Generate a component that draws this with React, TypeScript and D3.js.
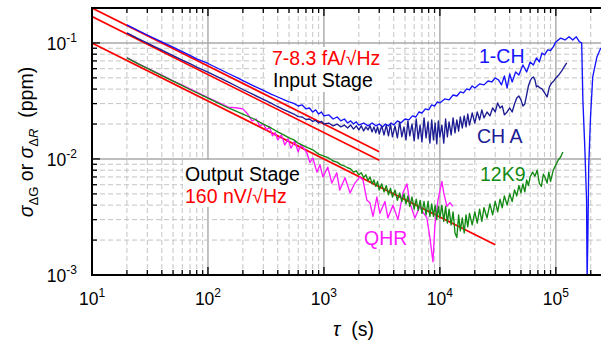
import * as d3 from "d3"

// Allan deviation data, tau in s, sigma in ppm
const oneCH: [number, number][] = [
  [20, 0.143], [25, 0.128], [30, 0.117], [40, 0.102], [50, 0.092], [60, 0.084], [70, 0.078], [80, 0.073],
  [100, 0.0665], [120, 0.0608], [150, 0.0545], [180, 0.0499], [200, 0.0474], [250, 0.0425], [300, 0.039],
  [350, 0.0362], [400, 0.0342], [450, 0.0325], [500, 0.031], [550, 0.0301], [600, 0.0286], [650, 0.0292],
  [700, 0.027], [750, 0.0275], [800, 0.0254], [850, 0.0265], [900, 0.0244], [950, 0.0254], [1000, 0.0235],
  [1100, 0.024], [1200, 0.0221], [1300, 0.023], [1400, 0.0213], [1500, 0.0221], [1600, 0.0204], [1700, 0.0213],
  [1800, 0.02], [1900, 0.0209], [2000, 0.0196], [2200, 0.0204], [2400, 0.0193], [2600, 0.0204], [2800, 0.0193],
  [3000, 0.02], [3200, 0.0189], [3400, 0.02], [3600, 0.0193], [3800, 0.0204], [4000, 0.0196], [4300, 0.0213],
  [4600, 0.0204], [5000, 0.0221], [5400, 0.0217], [5800, 0.0235], [6200, 0.023], [6600, 0.0254], [7000, 0.0249],
  [7500, 0.027], [8000, 0.0265], [8500, 0.0292], [9000, 0.0286], [9500, 0.031], [10000, 0.0304], [11000, 0.0329],
  [12000, 0.0323], [13000, 0.0356], [14000, 0.0349], [15000, 0.0378], [16000, 0.0371], [17000, 0.0402],
  [18000, 0.0394], [19000, 0.0426], [20000, 0.0409], [22000, 0.0443], [24000, 0.0435], [26000, 0.047],
  [28000, 0.0461], [30000, 0.0499], [32000, 0.048], [34000, 0.0435], [36000, 0.0519], [38000, 0.0409],
  [40000, 0.054], [42000, 0.0461], [45000, 0.0562], [48000, 0.053], [52000, 0.0646], [56000, 0.0562],
  [60000, 0.0686], [64000, 0.0646], [68000, 0.0743], [72000, 0.0686], [76000, 0.082], [80000, 0.0788],
  [85000, 0.087], [90000, 0.086], [95000, 0.0924], [100000, 0.102], [110000, 0.11], [120000, 0.106],
  [130000, 0.113], [140000, 0.106], [150000, 0.113], [160000, 0.102], [167000, 0.1], [171000, 0.0323],
  [178000, 0.012], [184000, 0.0044], [186000, 0.0009], [189000, 0.0023], [192000, 0.0085], [199000, 0.023],
  [208000, 0.051], [226000, 0.0757], [244000, 0.0906],
]

const chA: [number, number][] = [
  [20, 0.122], [25, 0.109], [30, 0.0998], [40, 0.0868], [50, 0.0778], [60, 0.0712], [70, 0.0662], [80, 0.062],
  [100, 0.056], [120, 0.0512], [150, 0.0459], [180, 0.0419], [200, 0.0397], [250, 0.0356], [300, 0.0326],
  [350, 0.0303], [400, 0.0282], [450, 0.0266], [500, 0.0254], [550, 0.0244], [600, 0.0232], [650, 0.023],
  [700, 0.0219], [750, 0.0221], [800, 0.0211], [850, 0.0215], [900, 0.0204], [950, 0.0211], [1000, 0.02],
  [1100, 0.0204], [1200, 0.0193], [1300, 0.02], [1400, 0.0189], [1500, 0.0196], [1600, 0.0185], [1700, 0.0196],
  [1800, 0.0181], [1900, 0.0193], [2000, 0.0178], [2100, 0.0193], [2200, 0.0174], [2300, 0.0189], [2400, 0.0178],
  [2500, 0.0193], [2600, 0.0171], [2700, 0.0189], [2800, 0.0168], [2900, 0.0189], [3000, 0.0164], [3150, 0.0193],
  [3300, 0.0161], [3450, 0.0196], [3600, 0.0158], [3750, 0.02], [3900, 0.0155], [4100, 0.0193], [4300, 0.0152],
  [4500, 0.0209], [4700, 0.0155], [4900, 0.0189], [5100, 0.0146], [5300, 0.0213], [5500, 0.0158], [5750, 0.02],
  [6000, 0.0143], [6250, 0.0221], [6500, 0.0149], [6750, 0.0196], [7000, 0.014], [7300, 0.0226], [7600, 0.0152],
  [7900, 0.0209], [8200, 0.0137], [8500, 0.0217], [8800, 0.0146], [9100, 0.0204], [9400, 0.0135], [9700, 0.0213],
  [10000, 0.0155], [10400, 0.0196], [10800, 0.0137], [11200, 0.0221], [11600, 0.0155], [12000, 0.0209],
  [12500, 0.0161], [13000, 0.0226], [13500, 0.0168], [14000, 0.0217], [14500, 0.0174], [15000, 0.023],
  [15600, 0.0185], [16200, 0.0235], [16800, 0.0189], [17400, 0.0244], [18000, 0.0196], [19000, 0.0249],
  [20000, 0.0204], [21000, 0.0254], [22000, 0.0217], [23000, 0.0265], [24000, 0.0226], [25500, 0.0254],
  [27000, 0.0235], [28500, 0.0275], [30000, 0.0254], [31500, 0.0304], [33000, 0.0275], [34500, 0.0286],
  [36000, 0.024], [38000, 0.0254], [40000, 0.0275], [42000, 0.0254], [44000, 0.0298], [46000, 0.0335],
  [48000, 0.0349], [50000, 0.0323], [52000, 0.0286], [54000, 0.0298], [56000, 0.0356], [58000, 0.0426],
  [60000, 0.047], [62000, 0.0499], [64000, 0.0509], [66000, 0.048], [68000, 0.0418], [70000, 0.0426],
  [73000, 0.0409], [76000, 0.0402], [80000, 0.0371], [84000, 0.0342], [88000, 0.0418], [92000, 0.0452],
  [96000, 0.047], [100000, 0.0499], [106000, 0.053], [112000, 0.0572], [118000, 0.0621], [124000, 0.0673],
]

const k12K9: [number, number][] = [
  [20, 0.0743], [25, 0.066], [30, 0.0603], [40, 0.0523], [50, 0.0468], [60, 0.0428], [70, 0.0397], [80, 0.0372],
  [100, 0.0334], [120, 0.0306], [150, 0.0275], [200, 0.0244], [250, 0.0221], [300, 0.02], [350, 0.0185],
  [400, 0.0171], [450, 0.0161], [500, 0.0152], [550, 0.0146], [600, 0.0137], [700, 0.0127], [800, 0.012],
  [900, 0.011], [1000, 0.0106], [1100, 0.0102], [1200, 0.0096], [1300, 0.0094], [1400, 0.0089], [1500, 0.0087],
  [1600, 0.0084], [1700, 0.0082], [1800, 0.0077], [1900, 0.0079], [2000, 0.0073], [2100, 0.0076], [2200, 0.0069],
  [2300, 0.0073], [2400, 0.0065], [2500, 0.007], [2600, 0.0061], [2700, 0.0066], [2800, 0.0058], [2900, 0.0064],
  [3000, 0.0054], [3150, 0.0061], [3300, 0.0052], [3450, 0.0059], [3600, 0.0049], [3750, 0.0056], [3900, 0.0047],
  [4100, 0.0054], [4300, 0.0044], [4500, 0.0051], [4700, 0.0043], [4900, 0.005], [5100, 0.0041], [5300, 0.0048],
  [5500, 0.0039], [5750, 0.0047], [6000, 0.0037], [6250, 0.0045], [6500, 0.0036], [6750, 0.0044], [7000, 0.0034],
  [7300, 0.0043], [7600, 0.0033], [7900, 0.0043], [8200, 0.0032], [8500, 0.0041], [8800, 0.0032], [9100, 0.004],
  [9400, 0.003], [9700, 0.0039], [10000, 0.0031], [10400, 0.004], [10800, 0.0029], [11200, 0.0039],
  [11600, 0.0028], [12000, 0.0037], [12500, 0.0027], [13000, 0.0035], [13500, 0.0023], [14000, 0.0021],
  [14500, 0.0033], [15000, 0.0024], [15600, 0.0031], [16200, 0.0023], [16800, 0.0033], [17400, 0.0026],
  [18000, 0.0034], [19000, 0.0027], [20000, 0.0035], [21000, 0.0028], [22000, 0.0037], [23000, 0.0029],
  [24000, 0.0038], [25500, 0.0031], [27000, 0.0041], [28500, 0.0033], [30000, 0.0043], [31500, 0.0035],
  [33000, 0.0045], [34500, 0.0038], [36000, 0.0048], [38000, 0.004], [40000, 0.005], [42000, 0.0043],
  [44000, 0.0054], [46000, 0.0048], [48000, 0.0059], [50000, 0.0051], [52000, 0.0061], [54000, 0.0052],
  [56000, 0.0066], [58000, 0.0059], [60000, 0.007], [63000, 0.0077], [66000, 0.0071], [69000, 0.008],
  [72000, 0.0062], [75000, 0.0058], [78000, 0.0074], [81000, 0.0069], [84000, 0.0062], [87000, 0.0077],
  [90000, 0.0064], [95000, 0.008], [100000, 0.0089], [105000, 0.0098], [110000, 0.0104], [115000, 0.0115],
]

const qhr: [number, number][] = [
  [20, 0.0748], [25, 0.0664], [30, 0.0607], [40, 0.0527], [50, 0.0472], [60, 0.0432], [70, 0.0401], [80, 0.0376],
  [100, 0.0338], [120, 0.0311], [150, 0.028], [180, 0.0275], [200, 0.027], [220, 0.0244], [240, 0.0213],
  [260, 0.0221], [280, 0.0193], [300, 0.02], [320, 0.0178], [340, 0.0189], [360, 0.0158], [380, 0.0168],
  [400, 0.0146], [430, 0.0161], [460, 0.0132], [490, 0.0149], [520, 0.0124], [560, 0.0143], [600, 0.0115],
  [630, 0.0132], [659, 0.0127], [713, 0.0113], [757, 0.0093], [803, 0.0102], [870, 0.0077], [924, 0.0089],
  [980, 0.007], [1080, 0.0085], [1170, 0.0062], [1290, 0.0076], [1370, 0.0054], [1520, 0.0069], [1680, 0.0051],
  [1850, 0.0062], [2040, 0.007], [2170, 0.0066], [2350, 0.0044], [2490, 0.0042], [2650, 0.0032], [2860, 0.0047],
  [3040, 0.0034], [3360, 0.0043], [3560, 0.0031], [3940, 0.004], [4350, 0.003], [4800, 0.0051], [5200, 0.0061],
  [5510, 0.0042], [6090, 0.0031], [6720, 0.0039], [7130, 0.0035], [7720, 0.0031], [8200, 0.0021], [8710, 0.0013],
  [9060, 0.0027], [9620, 0.0044], [10400, 0.0064], [10800, 0.0051], [11500, 0.0039], [12200, 0.0042],
  [12900, 0.0039],
]

// tau^-1/2 fits
const inputFitHi: [number, number][] = [[10, 0.2], [3000, 0.01155]]
const inputFitLo: [number, number][] = [[10, 0.1687], [3000, 0.00974]]
const outputFit: [number, number][] = [[10, 0.1], [30000, 0.001826]]

const xDecades = [10, 100, 1000, 10000, 100000]
const xDecadeLabels = ["1", "2", "3", "4", "5"]
const yDecades = [0.001, 0.01, 0.1]
const yDecadeLabels = ["-3", "-2", "-1"]

const W = 601
const H = 344
const FONT = "'Liberation Sans', Arial, Helvetica, sans-serif"

export default function App() {
  const x = d3.scaleLog().domain([10, 2.5e5]).range([92, 602])
  const y = d3.scaleLog().domain([1e-3, 0.2]).range([275, 8])
  const [x0, x1] = x.range()
  const [y0, y1] = y.range()

  const line = d3
    .line<[number, number]>()
    .x((d) => x(d[0]))
    .y((d) => y(d[1]))

  const xTicks: { v: number; major: boolean }[] = []
  xDecades.forEach((dec) => {
    for (let m = 1; m <= 9; m++) {
      const v = m * dec
      if (v <= 2.5e5) xTicks.push({ v, major: m === 1 })
    }
  })
  const yTicks: { v: number; major: boolean }[] = []
  yDecades.forEach((dec) => {
    for (let m = 1; m <= 9; m++) {
      const v = m * dec
      if (v <= 0.2 + 1e-9) yTicks.push({ v, major: m === 1 })
    }
  })

  const series = [
    { data: qhr, color: "#ff1aff" },
    { data: k12K9, color: "#138a13" },
    { data: oneCH, color: "#1414ff" },
    { data: chA, color: "#1c1c94" },
  ]

  return (
    <div style={{ position: "absolute", left: 0, top: 0 }}>
      <svg width={W} height={H} style={{ display: "block", background: "#fff" }} fontFamily={FONT}>
        <defs>
          <clipPath id="plot">
            <rect x={x0} y={y1} width={x1 - x0} height={y0 - y1} />
          </clipPath>
        </defs>

        {/* grid */}
        {xTicks.map((t, i) =>
          t.v === 10 ? null : (
            <line
              key={"gx" + i}
              x1={x(t.v)}
              x2={x(t.v)}
              y1={y1}
              y2={y0}
              stroke={t.major ? "#a8a8a8" : "#c4c4c4"}
              strokeWidth={t.major ? 1.4 : 1}
              strokeDasharray={t.major ? undefined : "5,3"}
            />
          )
        )}
        {yTicks.map((t, i) =>
          t.v === 0.001 ? null : (
            <line
              key={"gy" + i}
              x1={x0}
              x2={x1}
              y1={y(t.v)}
              y2={y(t.v)}
              stroke={t.major ? "#a8a8a8" : "#c4c4c4"}
              strokeWidth={t.major ? 1.4 : 1}
              strokeDasharray={t.major ? undefined : "5,3"}
            />
          )
        )}

        {/* text backgrounds */}
        <rect x={268} y={47} width={118} height={45} fill="#fff" />
        <rect x={183} y={160} width={122} height={47} fill="#fff" />
        <rect x={476} y={46} width={50} height={20} fill="#fff" />
        <rect x={474} y={126} width={52} height={21} fill="#fff" />
        <rect x={477} y={164} width={49} height={21} fill="#fff" />
        <rect x={361} y={228} width={50} height={21} fill="#fff" />

        {/* fits */}
        <g clipPath="url(#plot)" fill="none" stroke="#ff0000" strokeWidth={1.7}>
          <path d={line(inputFitHi) || ""} />
          <path d={line(inputFitLo) || ""} />
          <path d={line(outputFit) || ""} />
        </g>

        {/* data */}
        <g clipPath="url(#plot)" fill="none" strokeWidth={1.35} strokeLinejoin="round">
          {series.map((s, i) => (
            <path key={i} d={line(s.data) || ""} stroke={s.color} />
          ))}
        </g>

        {/* ticks */}
        <g stroke="#000" strokeWidth={1.3}>
          {xTicks.map((t, i) => {
            const len = t.major ? 8 : 5
            const px = x(t.v)
            return (
              <g key={"tx" + i}>
                <line x1={px} x2={px} y1={y0} y2={y0 - len} />
                <line x1={px} x2={px} y1={y1} y2={y1 + len} />
              </g>
            )
          })}
          {yTicks.map((t, i) => {
            const len = t.major ? 8 : 5
            const py = y(t.v)
            return <line key={"ty" + i} x1={x0} x2={x0 + len} y1={py} y2={py} />
          })}
        </g>

        {/* frame, right side lies beyond the picture */}
        <rect x={x0} y={y1} width={x1 - x0 + 4} height={y0 - y1} fill="none" stroke="#000" strokeWidth={2} />

        {/* tick labels */}
        <g fontSize={17.5} fill="#000">
          {xDecades.map((d, i) => (
            <text key={"lx" + i} x={x(d)} y={305} textAnchor="middle">
              10<tspan fontSize={12} dy={-8}>{xDecadeLabels[i]}</tspan>
            </text>
          ))}
          {yDecades.map((d, i) => (
            <text key={"ly" + i} x={77} y={y(d) + 7} textAnchor="end">
              10<tspan fontSize={12} dy={-8}>{yDecadeLabels[i]}</tspan>
            </text>
          ))}
        </g>

        {/* annotations */}
        <g fontSize={19.5}>
          <text x={272} y={65} fill="#ff0000">7-8.3 fA/√Hz</text>
          <text x={273} y={87} fill="#000">Input Stage</text>
          <text x={185} y={181} fill="#000">Output Stage</text>
          <text x={185} y={203} fill="#ff0000">160 nV/√Hz</text>
          <text x={479} y={63} fill="#1414ff">1-CH</text>
          <text x={477} y={143} fill="#1c1c94">CH A</text>
          <text x={480} y={181} fill="#138a13">12K9</text>
          <text x={364} y={245} fill="#ff1aff">QHR</text>
        </g>

        {/* axis titles */}
        <text x={333} y={336} fontSize={19.5} fill="#000">
          <tspan fontStyle="italic">τ</tspan>
          <tspan>{"\u00a0\u00a0(s)"}</tspan>
        </text>
        <text transform="translate(33,142) rotate(-90)" textAnchor="middle" fontSize={19.5} fill="#000">
          <tspan fontStyle="italic">σ</tspan>
          <tspan fontSize={13} dy={5}>ΔG</tspan>
          <tspan dy={-5}>{"\u00a0or\u00a0"}</tspan>
          <tspan fontStyle="italic">σ</tspan>
          <tspan fontSize={13} dy={5}>Δ</tspan>
          <tspan fontSize={13} fontStyle="italic">R</tspan>
          <tspan dy={-5}>{"\u00a0\u00a0(ppm)"}</tspan>
        </text>
      </svg>
    </div>
  )
}
